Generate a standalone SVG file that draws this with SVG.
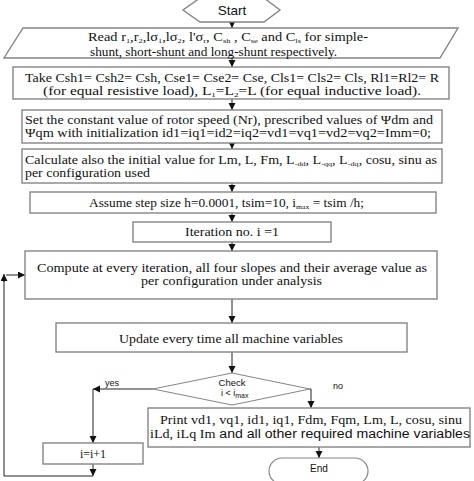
<svg xmlns="http://www.w3.org/2000/svg" width="474" height="481" viewBox="0 0 474 481">
<defs>
<marker id="ah" markerUnits="userSpaceOnUse" markerWidth="8" markerHeight="8" refX="7" refY="3.5" orient="auto">
<path d="M0,0 L7,3.5 L0,7 z" fill="#111"/>
</marker>
<style>
.box{fill:#fff;stroke:#858585;stroke-width:1.4}
.t{font-family:"Liberation Serif","Times New Roman",serif;font-size:12px;fill:#111}
.s{font-family:"Liberation Sans",Arial,sans-serif;fill:#111}
.sb{font-size:7px}
.c{stroke:#222;stroke-width:1;fill:none}
.ca{stroke:#222;stroke-width:1;fill:none;marker-end:url(#ah)}
</style>
</defs>
<rect width="474" height="481" fill="#fff"/>

<g id="connectors">
<line class="ca" x1="232" y1="22" x2="232" y2="28"/>
<line class="ca" x1="232" y1="58" x2="232" y2="67"/>
<line class="ca" x1="232" y1="99" x2="232" y2="110"/>
<line class="ca" x1="232" y1="143" x2="232" y2="149"/>
<line class="ca" x1="232" y1="183" x2="232" y2="192"/>
<line class="ca" x1="232" y1="213" x2="232" y2="222"/>
<line class="ca" x1="232" y1="242" x2="232" y2="251"/>
<line class="ca" x1="232" y1="299" x2="232" y2="323"/>
<line class="ca" x1="232" y1="352" x2="232" y2="373"/>
<line class="ca" x1="153" y1="389" x2="93" y2="389"/>
<line class="ca" x1="93" y1="389" x2="93" y2="443"/>
<polyline class="ca" points="310,389 311,389 311,408"/>
<line class="ca" x1="319" y1="447" x2="319" y2="458"/>
<line class="ca" x1="93" y1="464" x2="93" y2="476"/>
<polyline class="c" points="93,476 4,476 4,280"/>
<line class="ca" x1="4" y1="282" x2="4" y2="274"/>
<line class="ca" x1="6" y1="275" x2="25" y2="275"/>
</g>

<g id="start">
<polygon class="box" points="200,-2 264,-2 280,10 264,22 200,22 183,10"/>
<text class="s" x="232" y="15" font-size="13.5" text-anchor="middle">Start</text>
</g>

<g id="read">
<polygon class="box" points="23,28 458,28 440,58 4,58"/>
<text class="t" x="88" y="41" textLength="280" lengthAdjust="spacingAndGlyphs">Read r<tspan class="sb" dy="2">1</tspan><tspan dy="-2">,r</tspan><tspan class="sb" dy="2">2</tspan><tspan dy="-2">,lσ</tspan><tspan class="sb" dy="2">1</tspan><tspan dy="-2">,lσ</tspan><tspan class="sb" dy="2">2</tspan><tspan dy="-2">, l'σ</tspan><tspan class="sb" dy="2">r</tspan><tspan dy="-2">, C</tspan><tspan class="sb" dy="2">sh</tspan><tspan dy="-2"> , C</tspan><tspan class="sb" dy="2">se</tspan><tspan dy="-2">  and C</tspan><tspan class="sb" dy="2">ls</tspan><tspan dy="-2"> for simple-</tspan></text>
<text class="t" x="90" y="55.5" textLength="247" lengthAdjust="spacingAndGlyphs">shunt, short-shunt and long-shunt respectively.</text>
</g>

<g id="take">
<rect class="box" x="13" y="67" width="436" height="32"/>
<text class="t" x="25" y="82" textLength="414" lengthAdjust="spacingAndGlyphs">Take Csh1= Csh2= Csh, Cse1= Cse2= Cse, Cls1= Cls2= Cls, Rl1=Rl2= R</text>
<text class="t" x="43" y="95" textLength="378" lengthAdjust="spacingAndGlyphs">(for equal resistive load), L<tspan class="sb" dy="2">1</tspan><tspan dy="-2">=L</tspan><tspan class="sb" dy="2">2</tspan><tspan dy="-2">=L (for equal inductive load).</tspan></text>
</g>

<g id="set">
<rect class="box" x="22" y="110" width="420" height="33"/>
<text class="t" x="25" y="124" textLength="408" lengthAdjust="spacingAndGlyphs">Set the constant value of rotor speed (Nr), prescribed values of Ψdm and</text>
<text class="t" x="25" y="137" textLength="406" lengthAdjust="spacingAndGlyphs">Ψqm with initialization id1=iq1=id2=iq2=vd1=vq1=vd2=vq2=Imm=0;</text>
</g>

<g id="calc">
<rect class="box" x="22" y="149" width="420" height="34"/>
<text class="t" x="25" y="164" textLength="412" lengthAdjust="spacingAndGlyphs">Calculate also the initial value for Lm, L, Fm, L<tspan class="sb" dy="2">-dd</tspan><tspan dy="-2">, L</tspan><tspan class="sb" dy="2">-qq</tspan><tspan dy="-2">, L</tspan><tspan class="sb" dy="2">-dq</tspan><tspan dy="-2">, cosu, sinu as</tspan></text>
<text class="t" x="25" y="177" textLength="125" lengthAdjust="spacingAndGlyphs">per configuration used</text>
</g>

<g id="assume">
<rect class="box" x="30" y="192" width="406" height="21"/>
<text class="t" x="89" y="207" textLength="275" lengthAdjust="spacingAndGlyphs">Assume step size h=0.0001, tsim=10, i<tspan class="sb" dy="2">max</tspan><tspan dy="-2"> = tsim /h;</tspan></text>
</g>

<g id="iter">
<rect class="box" x="133" y="222" width="198" height="20"/>
<text class="t" x="185" y="236" textLength="94" lengthAdjust="spacingAndGlyphs">Iteration no. i =1</text>
</g>

<g id="compute">
<rect class="box" x="25" y="251" width="412" height="48"/>
<text class="t" x="37" y="272" textLength="390" lengthAdjust="spacingAndGlyphs">Compute at every iteration, all four slopes and their average value as</text>
<text class="t" x="141" y="285" textLength="181" lengthAdjust="spacingAndGlyphs">per configuration under analysis</text>
</g>

<g id="update">
<rect class="box" x="56" y="323" width="351" height="29"/>
<text class="t" x="119" y="343" textLength="224" lengthAdjust="spacingAndGlyphs">Update every time all machine variables</text>
</g>

<g id="check">
<polygon points="232,373 310,389 232,405 153,389" fill="#fff" stroke="#858585" stroke-width="1"/>
<text class="s" x="232" y="386" font-size="9.5" text-anchor="middle">Check</text>
<text class="s" x="221" y="396" font-size="9">i &lt; i<tspan font-size="7" dy="2">max</tspan></text>
<text class="s" x="105" y="386" font-size="9">yes</text>
<text class="s" x="333" y="389" font-size="9">no</text>
</g>

<g id="print">
<rect class="box" x="148" y="408" width="322" height="39"/>
<text class="t" x="160" y="424" textLength="302" lengthAdjust="spacingAndGlyphs">Print vd1, vq1, id1,  iq1, Fdm, Fqm, Lm, L, cosu, sinu</text>
<text x="150" y="438" textLength="320" lengthAdjust="spacingAndGlyphs"><tspan class="t" font-size="10">iLd,  iLq  Im</tspan><tspan class="s" font-size="12"> and all other required machine variables</tspan></text>
</g>

<g id="incr">
<rect class="box" x="43" y="443" width="100" height="21"/>
<text class="t" x="93" y="458" font-size="11" text-anchor="middle">i=i+1</text>
</g>

<g id="end">
<rect x="269" y="458" width="99" height="26" rx="13" ry="13" fill="#fff" stroke="#858585" stroke-width="1.2"/>
<text class="s" x="319" y="472" font-size="10" text-anchor="middle">End</text>
</g>
</svg>
